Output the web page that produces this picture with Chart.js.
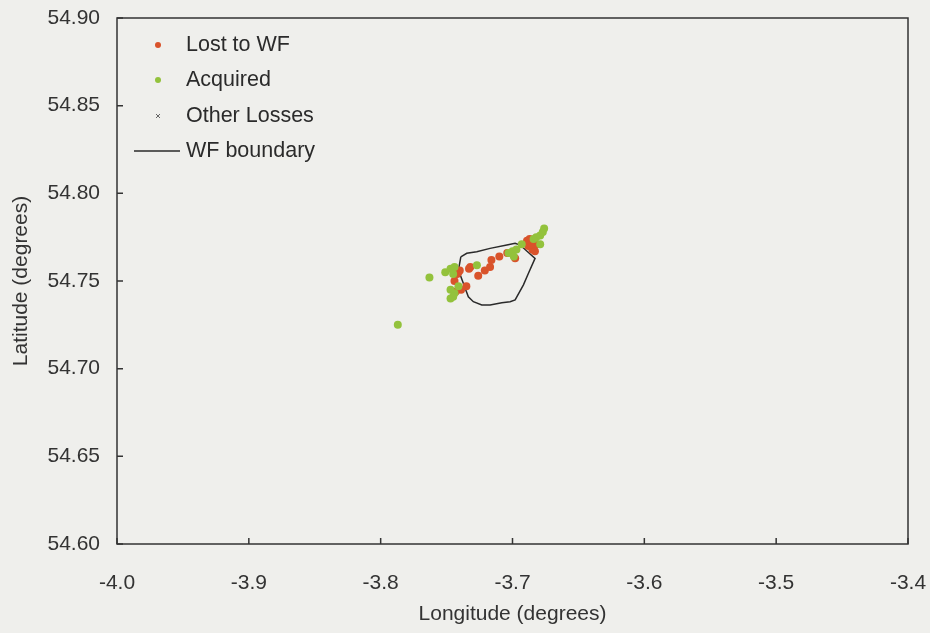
<!DOCTYPE html>
<html>
<head>
<meta charset="utf-8">
<script src="https://cdn.jsdelivr.net/npm/chart.js@4.4.1/dist/chart.umd.min.js"></script>
<style>
html,body{margin:0;padding:0;background:#efefec;}
#wrap{width:930px;height:633px;position:relative;}
</style>
</head>
<body>
<div id="wrap"><canvas id="c" width="930" height="633"></canvas></div>
<script>
// ---- data ----
const lostLon = [-3.742,-3.740,-3.733,-3.732,-3.726,-3.721,-3.717,-3.716,-3.710,-3.704,-3.698,-3.739,-3.735,-3.743,-3.741,-3.744,-3.688,-3.685,-3.684,-3.687,-3.682,-3.683,-3.686,-3.689];
const lostLat = [54.754,54.756,54.757,54.758,54.753,54.756,54.758,54.762,54.764,54.766,54.763,54.745,54.747,54.744,54.755,54.750,54.770,54.768,54.772,54.774,54.771,54.767,54.771,54.773];
const acqLon = [-3.787,-3.763,-3.751,-3.747,-3.744,-3.745,-3.727,-3.747,-3.744,-3.747,-3.741,-3.703,-3.700,-3.697,-3.699,-3.693,-3.684,-3.682,-3.679,-3.677,-3.676,-3.679,-3.745];
const acqLat = [54.725,54.752,54.755,54.757,54.758,54.754,54.759,54.745,54.743,54.740,54.747,54.766,54.767,54.768,54.764,54.771,54.774,54.775,54.776,54.778,54.780,54.771,54.741];
const otherLon = [];
const otherLat = [];
const wfLon = [-3.7392,-3.7347,-3.7271,-3.7170,-3.7043,-3.6980,-3.6942,-3.6829,-3.6879,-3.6917,-3.6980,-3.7018,-3.7081,-3.7170,-3.7233,-3.7297,-3.7335,-3.7373,-3.7410,-3.7392];
const wfLat = [54.7638,54.7658,54.7667,54.7686,54.7705,54.7715,54.7705,54.7629,54.7544,54.7478,54.7392,54.7382,54.7376,54.7363,54.7363,54.7382,54.7410,54.7487,54.7562,54.7638];
const xTicks = [-4.0,-3.9,-3.8,-3.7,-3.6,-3.5,-3.4];
const yTicks = [54.60,54.65,54.70,54.75,54.80,54.85,54.90];
const seriesNames = ['Lost to WF','Acquired','Other Losses','WF boundary'];

const zip = (a,b)=>a.map((v,i)=>({x:v,y:b[i]}));
const RED='#d9532b', GREEN='#93c23c', GREY='#666666', BLACK='#2a2a2a';
const FONT='"Liberation Sans", Arial, sans-serif';

const bgPlugin = {
  id:'bg',
  beforeDraw(chart){
    const ctx=chart.ctx; ctx.save(); ctx.fillStyle='#efefec'; ctx.fillRect(0,0,chart.width,chart.height); ctx.restore();
  }
};
const framePlugin = {
  id:'frame',
  afterDatasetsDraw(chart){
    const {ctx, chartArea:a, scales:{x,y}} = chart;
    ctx.save();
    ctx.strokeStyle='#333'; ctx.lineWidth=1.5;
    ctx.strokeRect(a.left,a.top,a.right-a.left,a.bottom-a.top);
    ctx.beginPath();
    xTicks.forEach(t=>{const px=x.getPixelForValue(t); ctx.moveTo(px,a.bottom); ctx.lineTo(px,a.bottom-6);});
    yTicks.forEach(t=>{const py=y.getPixelForValue(t); ctx.moveTo(a.left,py); ctx.lineTo(a.left+6,py);});
    ctx.stroke();
    // legend
    const items=[
      {t:seriesNames[0], type:'pt', c:RED, y:45},
      {t:seriesNames[1], type:'pt', c:GREEN, y:80},
      {t:seriesNames[2], type:'x', c:GREY, y:116},
      {t:seriesNames[3], type:'line', c:BLACK, y:151}
    ];
    ctx.font='21.5px '+FONT; ctx.textBaseline='middle'; ctx.textAlign='left';
    items.forEach(it=>{
      if(it.type==='pt'){ctx.fillStyle=it.c; ctx.beginPath(); ctx.arc(158,it.y,3,0,Math.PI*2); ctx.fill();}
      else if(it.type==='x'){ctx.strokeStyle=it.c; ctx.lineWidth=1; ctx.beginPath(); ctx.moveTo(156,it.y-2); ctx.lineTo(160,it.y+2); ctx.moveTo(160,it.y-2); ctx.lineTo(156,it.y+2); ctx.stroke();}
      else {ctx.strokeStyle=it.c; ctx.lineWidth=1.5; ctx.beginPath(); ctx.moveTo(134,it.y); ctx.lineTo(180,it.y); ctx.stroke();}
      ctx.fillStyle='#2b2b2b'; ctx.fillText(it.t,186,it.y);
    });
    ctx.restore();
  }
};

new Chart(document.getElementById('c'), {
  type:'scatter',
  data:{datasets:[
    {label:seriesNames[3], data:zip(wfLon,wfLat), showLine:true, borderColor:BLACK, borderWidth:1.5, pointRadius:0, fill:false, order:3},
    {label:seriesNames[0], data:zip(lostLon,lostLat), backgroundColor:RED, borderColor:RED, pointRadius:4, borderWidth:0, order:2},
    {label:seriesNames[1], data:zip(acqLon,acqLat), backgroundColor:GREEN, borderColor:GREEN, pointRadius:4, borderWidth:0, order:1},
    {label:seriesNames[2], data:zip(otherLon,otherLat), backgroundColor:GREY, borderColor:GREY, pointStyle:'crossRot', pointRadius:2.5, order:0}
  ]},
  options:{
    responsive:false, animation:false,
    layout:{padding:{top:18,right:22,left:0,bottom:0}},
    plugins:{legend:{display:false}, tooltip:{enabled:false}},
    scales:{
      x:{type:'linear', min:-4.0, max:-3.4,
        afterFit(s){s.height=89; s.paddingLeft=0; s.paddingRight=0; s.paddingTop=0; s.paddingBottom=0;},
        afterBuildTicks(s){s.ticks=xTicks.map(v=>({value:v}));},
        grid:{display:false, drawTicks:false}, border:{display:false},
        ticks:{padding:27, color:'#333', font:{family:FONT,size:21}, callback:v=>Number(v).toFixed(1), maxRotation:0, autoSkip:false},
        title:{display:true, text:'Longitude (degrees)', color:'#333', font:{family:FONT,size:21}, padding:{top:0,bottom:6}}
      },
      y:{type:'linear', min:54.6, max:54.9,
        afterFit(s){s.width=117; s.paddingLeft=0; s.paddingRight=0; s.paddingTop=0; s.paddingBottom=0;},
        afterBuildTicks(s){s.ticks=yTicks.map(v=>({value:v}));},
        grid:{display:false, drawTicks:false}, border:{display:false},
        ticks:{padding:17, color:'#333', font:{family:FONT,size:21}, callback:v=>Number(v).toFixed(2), autoSkip:false},
        title:{display:true, text:'Latitude (degrees)', color:'#333', font:{family:FONT,size:21}, padding:{top:9,bottom:0}}
      }
    }
  },
  plugins:[bgPlugin, framePlugin]
});
</script>
</body>
</html>
